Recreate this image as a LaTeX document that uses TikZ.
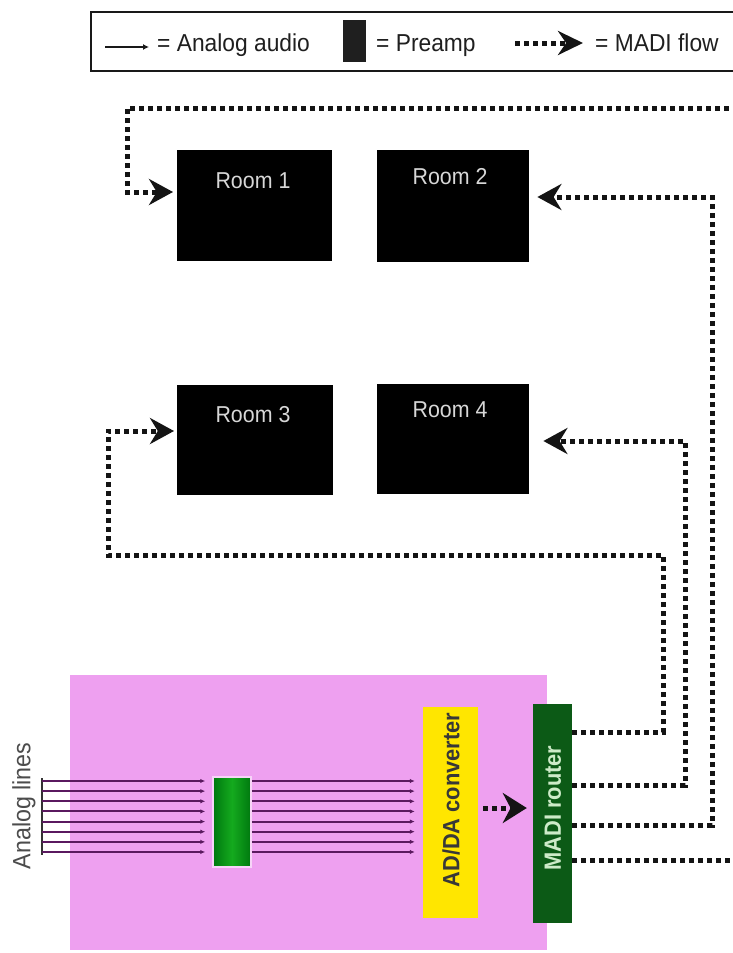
\documentclass[tikz,border=0pt]{standalone}
\usepackage{fontspec}
\setmainfont{Liberation Sans}[FakeStretch=0.93]
\usetikzlibrary{arrows.meta}
\definecolor{pinkbg}{RGB}{238,160,240}
\definecolor{adyellow}{RGB}{255,230,0}
\definecolor{preampdark}{RGB}{0,120,15}
\definecolor{preampbright}{RGB}{20,170,30}
\definecolor{routergreen}{RGB}{12,90,22}
\definecolor{analogcol}{RGB}{90,25,95}
\definecolor{routertext}{RGB}{205,235,200}
\definecolor{roomtextcol}{RGB}{215,215,215}
\tikzset{
  legendtext/.style={font=\fontsize{24.5}{24.5}\selectfont, inner sep=0pt, anchor=base west, text=black!88},
  room/.style={fill=black, draw=none, inner sep=0pt, anchor=north west},
  roomtext/.style={font=\fontsize{23}{23}\selectfont, inner sep=0pt, anchor=base, text=roomtextcol},
  madi/.style={line width=5pt, dash pattern=on 5pt off 4pt, draw=black!92, line join=miter},
  madiarrow/.style={madi, -{Stealth[length=24pt,width=26pt]}},
  analog/.style={line width=2pt, draw=analogcol, -{Latex[length=5pt,width=4.5pt]}},
  preampbox/.style={draw=white!55!pinkbg, line width=1.5pt, left color=preampdark, right color=preampdark, middle color=preampbright, inner sep=0pt, minimum width=38pt, minimum height=90pt},
  addabox/.style={fill=adyellow, draw=none, inner sep=0pt, minimum width=55pt, minimum height=211pt},
  routerbox/.style={fill=routergreen, draw=none, inner sep=0pt, minimum width=39pt, minimum height=219pt},
  vtext/.style={rotate=90, inner sep=0pt, font=\bfseries\fontsize{23.5}{23.5}\selectfont},
}
\begin{document}
\begin{tikzpicture}[x=1pt,y=-1pt]
\useasboundingbox (0,0) rectangle (733,953);
\clip (0,0) rectangle (733,953);
\fill[white] (0,0) rectangle (733,953);

% ---------- legend ----------
\draw[line width=2pt, draw=black!90] (91,12) rectangle (760,71);
\coordinate (la1) at (105,47);
\coordinate (la2) at (149,47);
\draw[line width=2pt, draw=black!90, -{Latex[length=6pt,width=6pt]}] (la1) -- (la2);
\node[legendtext] (lt1) at (157,51) {= Analog audio};
\node[fill=black!88, inner sep=0pt, minimum width=23pt, minimum height=42pt] (lpre) at (354.5,41) {};
\node[legendtext] (lt2) at (376,51) {= Preamp};
\coordinate (lm1) at (515,43);
\coordinate (lm2) at (583,43);
\draw[madiarrow, -{Stealth[length=25pt,width=24pt]}] (lm1) -- (lm2);
\node[legendtext] (lt3) at (595,51) {= MADI flow};

% ---------- rooms ----------
\node[room, minimum width=155pt, minimum height=111pt] (r1) at (177,150) {};
\node[room, minimum width=152pt, minimum height=112pt] (r2) at (377,150) {};
\node[room, minimum width=156pt, minimum height=110pt] (r3) at (177,385) {};
\node[room, minimum width=152pt, minimum height=110pt] (r4) at (377,384) {};
\node[roomtext] (r1t) at (253,188) {Room 1};
\node[roomtext] (r2t) at (450,184) {Room 2};
\node[roomtext] (r3t) at (253,422) {Room 3};
\node[roomtext] (r4t) at (450,417) {Room 4};

% ---------- studio block ----------
\fill[pinkbg] (70,675) rectangle (547,950);
\node[preampbox] (pre) at (232,822) {};
\node[addabox] (adda) at (450.5,812.5) {};
\node[routerbox] (router) at (552.5,813.5) {};
\node[vtext, text=black!78] (addat) at (451,800) {AD/DA converter};
\node[vtext, text=routertext] (routert) at (553,808) {MADI router};
\node[rotate=90, inner sep=0pt, font=\fontsize{25}{25}\selectfont, text=black!70] (alt) at (24,806) {Analog lines};

% analog lines
\draw[line width=2.5pt, draw=black!80] (42,778) -- (42,855);
\foreach \i in {0,...,7}{
  \coordinate (in\i) at (42,{781+\i*10.14});
  \draw[analog, shorten >=7pt] (in\i) -- (in\i -| pre.west);
  \draw[analog, shorten >=8pt] (in\i -| pre.east) -- (in\i -| adda.west);
}

% AD/DA -> router
\draw[madiarrow, -{Stealth[length=24pt,width=30pt]}, shorten <=5pt, shorten >=6pt] (adda.east |- 0,808) -- (router.west |- 0,808);

% router -> rooms
\draw[madiarrow, shorten >=4pt] (router.east |- 0,860) -- (738,860) -- (738,108) -- (127,108) -- (127,192) -- (r1.west |- 0,192);
\draw[madiarrow, shorten >=8pt] (router.east |- 0,825) -- (712,825) -- (712,197) -- (r2.east |- 0,197);
\draw[madiarrow, shorten >=14pt] (router.east |- 0,785) -- (685,785) -- (685,441) -- (r4.east |- 0,441);
\draw[madiarrow, shorten >=3pt] (router.east |- 0,732) -- (663,732) -- (663,555) -- (108,555) -- (108,431) -- (r3.west |- 0,431);
\end{tikzpicture}
\end{document}
